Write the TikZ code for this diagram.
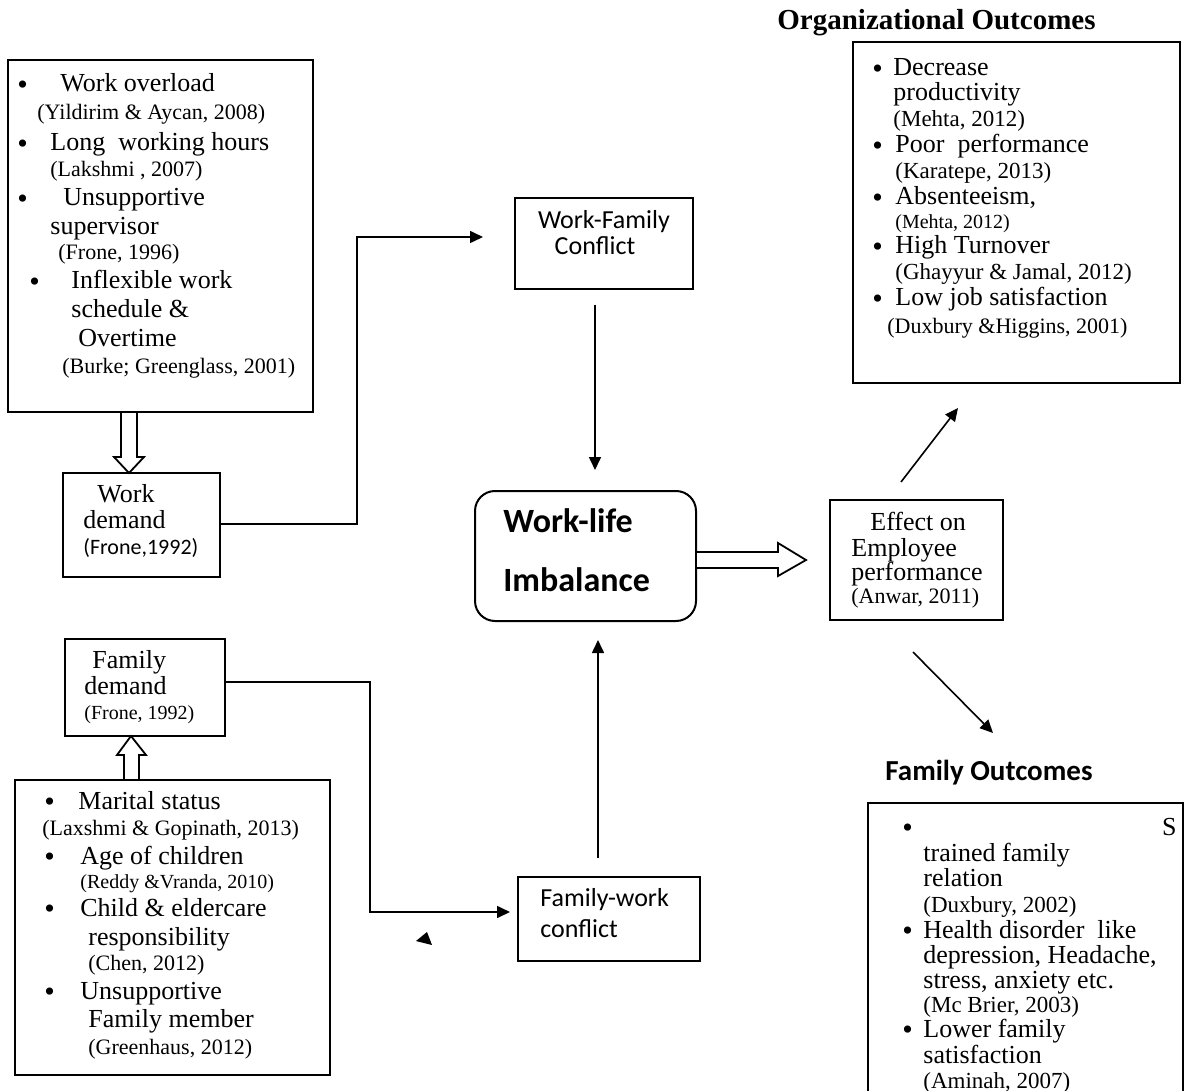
\documentclass[tikz,border=0pt]{standalone}
\usepackage{fontspec}
\setmainfont{Liberation Serif}
\newfontfamily\carl{Carlito}
\usetikzlibrary{arrows.meta,fit}
\begin{document}
\begin{tikzpicture}[x=0.5pt,y=-0.5pt,
  box/.style={draw, line width=1pt, inner sep=0pt},
  tx/.style={anchor=base west, inner sep=0pt, font=\fontsize{13}{15}\selectfont},
  cite/.style={anchor=base west, inner sep=0pt, font=\fontsize{11}{13}\selectfont},
  citemd/.style={anchor=base west, inner sep=0pt, font=\fontsize{11.5}{13}\selectfont},
  citesm/.style={anchor=base west, inner sep=0pt, font=\fontsize{10}{12}\selectfont},
  sans/.style={anchor=base west, inner sep=0pt, font=\carl\fontsize{13}{15}\selectfont},
  bul/.style={anchor=base west, inner sep=0pt, font=\fontsize{15}{15}\selectfont, yshift=-1.2pt},
  conn/.style={line width=0.8pt, -{Triangle[length=6.5pt,width=6pt]}},
  hollow/.style={draw, line width=0.9pt, fill=white, line join=miter}]
\useasboundingbox (0,0) rectangle (1189,1091);

% ---------- work demand factors ----------
\node[box, fit={(8,60) (313,412)}] (wl) {};
\node[bul] (wlb1) at (17,92) {\textbullet};
\node[tx] (wl1) at (60,92) {Work overload};
\node[cite] (wl2) at (37,120) {(Yildirim \& Aycan, 2008)};
\node[bul] (wlb2) at (17,151) {\textbullet};
\node[tx] (wl3) at (50,151) {Long\ \ working hours};
\node[cite] (wl4) at (50,177) {(Lakshmi , 2007)};
\node[bul] (wlb3) at (17,206) {\textbullet};
\node[tx] (wl5) at (63,206) {Unsupportive};
\node[tx] (wl6) at (50,235) {supervisor};
\node[cite] (wl7) at (58,260) {(Frone, 1996)};
\node[bul] (wlb4) at (29,289) {\textbullet};
\node[tx] (wl8) at (71,289) {Inflexible work};
\node[tx] (wl9) at (71,318) {schedule \&};
\node[tx] (wl10) at (78,347) {Overtime};
\node[cite] (wl11) at (62,373) {(Burke; Greenglass, 2001)};

\node[box, fit={(63,473) (220,577)}] (wd) {};
\node[tx] (wd1) at (97,502) {Work};
\node[tx] (wd2) at (83,528) {demand};
\node[anchor=base west, inner sep=0pt, font=\carl\fontsize{11}{13}\selectfont] (wd3) at (83,554) {(Frone,1992)};

\path[hollow] (121,412) -- (121,457) -- (114,457) -- (129,473) -- (144,457) -- (137,457) -- (137,412) -- cycle;

% ---------- family demand factors ----------
\node[box, fit={(65,639) (225,736)}] (fd) {};
\node[tx] (fd1) at (92,668) {Family};
\node[tx] (fd2) at (84,694) {demand};
\node[citesm] (fd3) at (84,719) {(Frone, 1992)};

\node[box, fit={(15,780) (330,1075)}] (bl) {};
\node[bul] (blb1) at (44,809) {\textbullet};
\node[tx] (bl1) at (78,809) {Marital status};
\node[cite] (bl2) at (42,835) {(Laxshmi \& Gopinath, 2013)};
\node[bul] (blb2) at (44,864) {\textbullet};
\node[tx] (bl3) at (80,864) {Age of children};
\node[citesm] (bl4) at (80,888) {(Reddy \&Vranda, 2010)};
\node[bul] (blb3) at (44,916) {\textbullet};
\node[tx] (bl5) at (80,916) {Child \& eldercare};
\node[tx] (bl6) at (88,945) {responsibility};
\node[cite] (bl7) at (88,970) {(Chen, 2012)};
\node[bul] (blb4) at (44,999) {\textbullet};
\node[tx] (bl8) at (80,999) {Unsupportive};
\node[tx] (bl9) at (88,1027) {Family member};
\node[cite] (bl10) at (88,1054) {(Greenhaus, 2012)};

\path[hollow] (124,780) -- (124,755) -- (117,755) -- (131,736) -- (146,755) -- (139,755) -- (139,780) -- cycle;

% ---------- conflicts ----------
\node[box, fit={(515,198) (693,289)}] (wf) {};
\node[anchor=base, inner sep=0pt, font=\carl\fontsize{13}{15}\selectfont] (wf1) at (604,229) {Work-Family};
\node[anchor=base, inner sep=0pt, font=\carl\fontsize{13}{15}\selectfont] (wf2) at (595,255) {Conflict};

\node[box, fit={(518,877) (700,961)}] (fw) {};
\node[sans] (fw1) at (540,906) {Family-work};
\node[sans] (fw2) at (540,937) {conflict};

% ---------- central construct ----------
\node[box, rounded corners=10pt, fit={(475,491) (696,621)}] (wlib) {};
\node[anchor=base west, inner sep=0pt, font=\carl\bfseries\fontsize{17}{20}\selectfont] (wlib1) at (503,532) {Work-life};
\node[anchor=base west, inner sep=0pt, font=\carl\bfseries\fontsize{17}{20}\selectfont] (wlib2) at (503,591) {Imbalance};

\path[hollow] (696,552) -- (778,552) -- (778,543) -- (806,560) -- (778,576) -- (778,568) -- (696,568) -- cycle;

% ---------- effect ----------
\node[box, fit={(830,500) (1003,620)}] (ef) {};
\node[tx] (ef1) at (870,530) {Effect on};
\node[tx] (ef2) at (851,556) {Employee};
\node[tx] (ef3) at (851,580) {performance};
\node[cite] (ef4) at (851,603) {(Anwar, 2011)};

% ---------- organizational outcomes ----------
\node[anchor=base west, inner sep=0pt, font=\bfseries\fontsize{14.5}{17}\selectfont] (oot) at (777,30) {Organizational Outcomes};
\node[box, fit={(853,42) (1180,383)}] (oo) {};
\node[bul] (oob1) at (872,76) {\textbullet};
\node[tx] (oo1) at (893,76) {Decrease};
\node[tx] (oo2) at (893,101) {productivity};
\node[citemd] (oo3) at (893,127) {(Mehta, 2012)};
\node[bul] (oob2) at (872,153) {\textbullet};
\node[tx] (oo4) at (895,153) {Poor\ \ performance};
\node[citemd] (oo5) at (895,179) {(Karatepe, 2013)};
\node[bul] (oob3) at (872,205) {\textbullet};
\node[tx] (oo6) at (895,205) {Absenteeism,};
\node[citesm] (oo7) at (895,229) {(Mehta, 2012)};
\node[bul] (oob4) at (872,254) {\textbullet};
\node[tx] (oo8) at (895,254) {High Turnover};
\node[citemd] (oo9) at (895,280) {(Ghayyur \& Jamal, 2012)};
\node[bul] (oob5) at (872,306) {\textbullet};
\node[tx] (oo10) at (895,306) {Low job satisfaction};
\node[cite] (oo11) at (887,334) {(Duxbury \&Higgins, 2001)};

% ---------- family outcomes ----------
\node[anchor=base west, inner sep=0pt, font=\carl\bfseries\fontsize{14.5}{17}\selectfont] (fot) at (885,780) {Family Outcomes};
\node[box, fit={(868,803) (1183,1110)}] (fo) {};
\node[bul] (fob1) at (902,835) {\textbullet};
\node[anchor=base east, inner sep=0pt, font=\fontsize{13}{15}\selectfont] (fo0) at (1177,835) {S};
\node[tx] (fo1) at (923,861) {trained family};
\node[tx] (fo2) at (923,886) {relation};
\node[citemd] (fo3) at (923,912) {(Duxbury, 2002)};
\node[bul] (fob2) at (902,938) {\textbullet};
\node[tx] (fo4) at (923,938) {Health disorder\ \ like};
\node[tx] (fo5) at (923,963) {depression, Headache,};
\node[tx] (fo6) at (923,988) {stress, anxiety etc.};
\node[citemd] (fo7) at (923,1012) {(Mc Brier, 2003)};
\node[bul] (fob3) at (902,1037) {\textbullet};
\node[tx] (fo8) at (923,1037) {Lower family};
\node[tx] (fo9) at (923,1063) {satisfaction};
\node[citemd] (fo10) at (923,1088) {(Aminah, 2007)};

% ---------- connector end points ----------
\coordinate (wfin) at (483,237);
\coordinate (wfout) at (595,305);
\coordinate (wlin) at (595,470);
\coordinate (fwin) at (510,912);
\coordinate (fwout) at (598,858);
\coordinate (wlup) at (598,640);
\coordinate (efup) at (901,482);
\coordinate (ooin) at (958,408);
\coordinate (efdn) at (913,652);
\coordinate (foin) at (993,733);

% ---------- connectors ----------
\draw[conn] (wd.east |- 0,524) -| (357,237) -- (wfin);
\draw[conn] (wfout) -- (wlin);
\draw[conn] (fd.east |- 0,682) -| (370,912) -- (fwin);
\draw[conn] (fwout) -- (wlup);
\draw[conn] (efup) -- (ooin);
\draw[conn] (efdn) -- (foin);

% stray arrow head
\fill (416,941) -- (427,932) -- (432,945) -- cycle;
\end{tikzpicture}
\end{document}
